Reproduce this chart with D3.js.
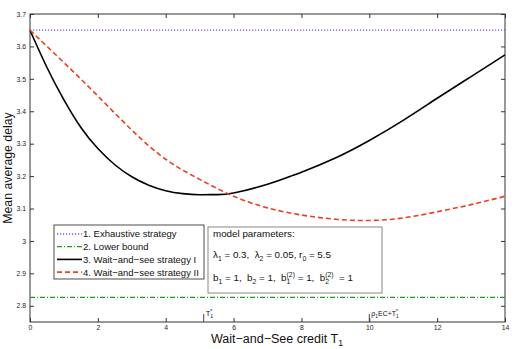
<!DOCTYPE html>
<html>
<head>
<meta charset="utf-8">
<script src="https://cdn.jsdelivr.net/npm/d3@7"></script>
<style>
  body { margin: 0; background: #fff; }
  text { font-family: "Liberation Sans", Arial, sans-serif; white-space: pre; }
</style>
</head>
<body>
<div id="chart"></div>
<script>
// data
const credit = [0, 0.5, 1, 1.5, 2, 2.5, 3, 3.5, 4, 4.5, 5, 5.5, 6, 7, 7.66, 8, 9, 10, 11, 12, 13, 14];
const strategyI = [3.65, 3.535, 3.435, 3.35, 3.285, 3.235, 3.198, 3.172, 3.155, 3.146, 3.1425, 3.143, 3.148, 3.175, 3.199, 3.212, 3.256, 3.31, 3.372, 3.44, 3.507, 3.574];

const credit2 = [0, 1, 2, 3, 4, 5, 6, 7, 8, 9, 10, 11, 12, 13, 14];
const strategyII = [3.65, 3.55, 3.447, 3.342, 3.252, 3.19, 3.138, 3.102, 3.08, 3.067, 3.063, 3.071, 3.09, 3.112, 3.138];

const exhaustive = 3.65;
const lowerBound = 2.826;

const xTicks = [0, 2, 4, 6, 8, 10, 12, 14];
const yTicks = [2.8, 2.9, 3, 3.1, 3.2, 3.3, 3.4, 3.5, 3.6, 3.7];
const markT1 = 5.12;
const markRho = 10.0;

const legendLabels = ["1. Exhaustive strategy", "2. Lower bound", "3. Wait\u2212and\u2212see strategy I", "4. Wait\u2212and\u2212see strategy II"];

function drawChart() {
    const width = 530, height = 349;
    const pLeft = 30, pRight = 505, pTop = 14, pBottom = 322;

    const svg = d3.select("#chart").append("svg")
        .attr("width", width)
        .attr("height", height);

    const x = d3.scaleLinear().domain([0, 14]).range([pLeft, pRight]);
    const y = d3.scaleLinear().domain([2.75, 3.7]).range([pBottom, pTop]);

    // styles per series
    const styles = [
        {color: "#5b5bff", width: 1.3, dash: "1.2,1.8"},
        {color: "#1f9a1f", width: 1.3, dash: "5,2,1,2"},
        {color: "#000000", width: 1.6, dash: null},
        {color: "#e8401c", width: 1.6, dash: "5,3"}
    ];

    // writes a run of text pieces, each {t, small} or {stack:{sup, sub}}
    function richText(parent, x0, y0, size, parts) {
        let cx = x0;
        parts.forEach(p => {
            if (p.stack) {
                const a = parent.append("text").attr("x", cx).attr("y", y0 - size * 0.42)
                    .style("font-size", (size * 0.7) + "px").attr("fill", "#111").text(p.stack.sup);
                const b = parent.append("text").attr("x", cx).attr("y", y0 + size * 0.3)
                    .style("font-size", (size * 0.7) + "px").attr("fill", "#111").text(p.stack.sub);
                cx += Math.max(a.node().getComputedTextLength(), b.node().getComputedTextLength());
            } else {
                const fs = p.small ? size * 0.7 : size;
                const dy = p.small === "sub" ? size * 0.3 : (p.small === "sup" ? -size * 0.42 : 0);
                const t = parent.append("text").attr("x", cx).attr("y", y0 + dy)
                    .style("font-size", fs + "px").attr("fill", "#111").text(p.t);
                cx += t.node().getComputedTextLength();
            }
        });
        return cx;
    }

    // axes (box with inward ticks)
    function tickAxis(axis, pos, labels) {
        const g = svg.append("g").attr("transform", pos);
        g.call(axis);
        g.select(".domain").remove();
        g.selectAll("line").attr("stroke", "#333");
        g.selectAll("text").attr("fill", "#222").style("font-size", "6.8px");
        if (!labels) g.selectAll("text").remove();
        return g;
    }

    tickAxis(d3.axisBottom(x).tickValues(xTicks).tickSize(-4).tickPadding(3.5).tickFormat(d3.format("d")),
        `translate(0,${pBottom})`, true);
    tickAxis(d3.axisTop(x).tickValues(xTicks).tickSize(-4).tickFormat(""), `translate(0,${pTop})`, false);
    tickAxis(d3.axisLeft(y).tickValues(yTicks).tickSize(-4).tickPadding(4).tickFormat(d => d === 3 ? "3" : d3.format(".1f")(d)),
        `translate(${pLeft},0)`, true);
    tickAxis(d3.axisRight(y).tickValues(yTicks).tickSize(-4).tickFormat(""), `translate(${pRight},0)`, false);

    svg.append("rect")
        .attr("x", pLeft).attr("y", pTop)
        .attr("width", pRight - pLeft).attr("height", pBottom - pTop)
        .attr("fill", "none").attr("stroke", "#333").attr("stroke-width", 1);

    // series
    const line = d3.line().x(d => x(d[0])).y(d => y(d[1])).curve(d3.curveNatural);

    function drawLine(pts, s) {
        svg.append("path")
            .attr("d", line(pts))
            .attr("fill", "none")
            .attr("stroke", s.color)
            .attr("stroke-width", s.width)
            .attr("stroke-dasharray", s.dash);
    }

    drawLine([[0, exhaustive], [14, exhaustive]], styles[0]);
    drawLine([[0, lowerBound], [14, lowerBound]], styles[1]);
    drawLine(credit.map((c, i) => [c, strategyI[i]]), styles[2]);
    drawLine(credit2.map((c, i) => [c, strategyII[i]]), styles[3]);

    // markers on x axis
    [markT1, markRho].forEach(t => {
        svg.append("line")
            .attr("x1", x(t)).attr("x2", x(t))
            .attr("y1", pBottom).attr("y2", pBottom - 8)
            .attr("stroke", "#444").attr("stroke-width", 1);
    });

    const mk = svg.append("g");
    richText(mk, x(markT1) + 2, pBottom - 6, 7.5, [{t: "T"}, {stack: {sup: "*", sub: "1"}}]);
    richText(mk, x(markRho) + 2, pBottom - 6, 7, [{t: "\u03c1"}, {t: "1", small: "sub"}, {t: "EC+T"}, {stack: {sup: "*", sub: "1"}}]);

    // axis titles
    const xt = svg.append("g");
    const xtEnd = richText(xt, 0, 342.5, 12.5, [{t: "Wait\u2212and\u2212See credit T"}, {t: "1", small: "sub"}]);
    xt.attr("transform", `translate(${277 - xtEnd / 2},0)`);

    svg.append("text")
        .attr("transform", "translate(12,168) rotate(-90)")
        .attr("text-anchor", "middle")
        .style("font-size", "12.3px").attr("fill", "#111")
        .text("Mean average delay");

    // legend
    const lg = svg.append("g");
    lg.append("rect")
        .attr("x", 54).attr("y", 225).attr("width", 150).attr("height", 54)
        .attr("fill", "#fff").attr("stroke", "#222").attr("stroke-width", 0.8);
    legendLabels.forEach((lab, i) => {
        const yy = 234 + i * 12.7;
        lg.append("line")
            .attr("x1", 57).attr("x2", 82).attr("y1", yy).attr("y2", yy)
            .attr("stroke", styles[i].color)
            .attr("stroke-width", styles[i].width)
            .attr("stroke-dasharray", styles[i].dash);
        lg.append("text")
            .attr("x", 83).attr("y", yy + 3.4)
            .style("font-size", "9.5px").attr("fill", "#111")
            .text(lab);
    });

    // parameter box
    const pb = svg.append("g");
    pb.append("rect")
        .attr("x", 208).attr("y", 227).attr("width", 174).attr("height", 66)
        .attr("fill", "#fff").attr("stroke", "#888").attr("stroke-width", 1);

    richText(pb, 213, 237, 9.8, [{t: "model parameters:"}]);
    richText(pb, 213, 258, 9.8, [
        {t: "\u03bb"}, {t: "1", small: "sub"}, {t: " = 0.3,  \u03bb"}, {t: "2", small: "sub"},
        {t: " = 0.05, r"}, {t: "0", small: "sub"}, {t: " = 5.5"}
    ]);
    richText(pb, 213, 281, 9.8, [
        {t: "b"}, {t: "1", small: "sub"}, {t: " = 1,  b"}, {t: "2", small: "sub"},
        {t: " = 1,  b"}, {stack: {sup: "(2)", sub: "1"}}, {t: " = 1,  b"},
        {stack: {sup: "(2)", sub: "2"}}, {t: "  = 1"}
    ]);
}

drawChart();
</script>
</body>
</html>
